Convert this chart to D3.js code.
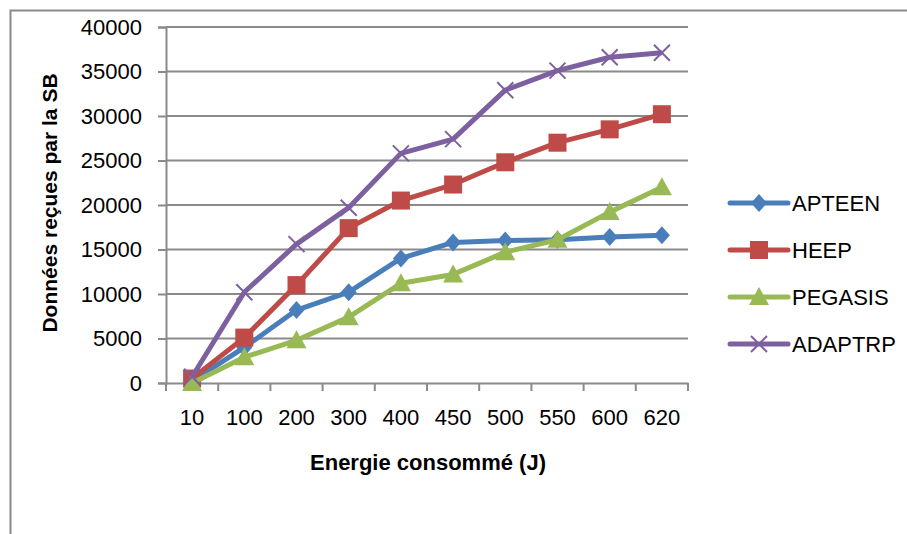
<!DOCTYPE html>
<html>
<head>
<meta charset="utf-8">
<script src="https://cdn.jsdelivr.net/npm/d3@7"></script>
<style>
  body { margin: 0; background: #fff; }
  text { font-family: "Liberation Sans", "DejaVu Sans", sans-serif; fill: #000; }
</style>
</head>
<body>
<div id="container"></div>
<script>
const categories = ["10", "100", "200", "300", "400", "450", "500", "550", "600", "620"];
const apteen  = [200, 4000, 8200, 10200, 14000, 15800, 16000, 16100, 16400, 16600];
const heep    = [500, 5100, 11000, 17400, 20500, 22300, 24800, 27000, 28500, 30200];
const pegasis = [0, 2900, 4800, 7400, 11200, 12200, 14700, 16100, 19200, 22000];
const adaptrp = [700, 10200, 15600, 19700, 25800, 27400, 32900, 35100, 36600, 37100];
const yTicks = [0, 5000, 10000, 15000, 20000, 25000, 30000, 35000, 40000];
const seriesNames = ["APTEEN", "HEEP", "PEGASIS", "ADAPTRP"];

function drawSVG() {
  const W = 907, H = 534;
  const left = 166, right = 688, top = 27, bottom = 383;

  const svg = d3.select("#container").append("svg")
    .attr("width", W).attr("height", H);

  // outer chart border (runs off the picture)
  svg.append("rect")
    .attr("x", 10.5).attr("y", 10.5)
    .attr("width", W + 20).attr("height", H + 20)
    .attr("fill", "none").attr("stroke", "#8a8a8a").attr("stroke-width", 2);

  const x = d3.scaleBand().domain(categories).range([left, right]);
  const y = d3.scaleLinear().domain([0, 40000]).range([bottom, top]);

  // gridlines + y ticks
  const yAxis = svg.append("g")
    .attr("transform", `translate(${left},0)`)
    .call(d3.axisLeft(y).tickValues(yTicks).tickSize(8).tickPadding(16).tickFormat(d3.format("d")));
  yAxis.select(".domain").attr("stroke", "#8a8a8a").attr("stroke-width", 2);
  yAxis.selectAll(".tick line").attr("stroke", "#8a8a8a").attr("stroke-width", 2);
  yAxis.selectAll(".tick text").attr("font-size", 22);

  svg.append("g").selectAll("line")
    .data(yTicks.slice(1))
    .join("line")
    .attr("x1", left).attr("x2", right)
    .attr("y1", d => y(d)).attr("y2", d => y(d))
    .attr("stroke", "#8a8a8a").attr("stroke-width", 2);

  // x axis
  const xAxis = svg.append("g")
    .attr("transform", `translate(0,${bottom})`)
    .call(d3.axisBottom(x).tickSize(0).tickPadding(26));
  xAxis.select(".domain").attr("stroke", "#8a8a8a").attr("stroke-width", 2);
  xAxis.selectAll(".tick text").attr("font-size", 22);
  const bounds = categories.map(c => x(c)).concat([right]);
  svg.append("g").selectAll("line")
    .data(bounds)
    .join("line")
    .attr("x1", d => d).attr("x2", d => d)
    .attr("y1", bottom).attr("y2", bottom + 8)
    .attr("stroke", "#8a8a8a").attr("stroke-width", 2);

  // axis titles
  svg.append("text")
    .attr("x", 428).attr("y", 470)
    .attr("text-anchor", "middle")
    .attr("font-size", 22).attr("font-weight", "bold")
    .text("Energie consommé (J)");
  svg.append("text")
    .attr("transform", "translate(57,203) rotate(-90)")
    .attr("text-anchor", "middle")
    .attr("font-size", 21).attr("font-weight", "bold")
    .text("Données reçues par la SB");

  const series = [
    { name: seriesNames[0], values: apteen,  color: "#4A7EBB", marker: "diamond" },
    { name: seriesNames[1], values: heep,    color: "#BE4B48", marker: "square" },
    { name: seriesNames[2], values: pegasis, color: "#98B954", marker: "triangle" },
    { name: seriesNames[3], values: adaptrp, color: "#7D60A0", marker: "x" }
  ];

  const cx = c => x(c) + x.bandwidth() / 2;
  const line = d3.line().x((d, i) => cx(categories[i])).y(d => y(d));

  function marker(g, type, color) {
    if (type === "diamond") {
      g.append("path").attr("d", "M0,-9L8,0L0,9L-8,0Z").attr("fill", color);
    } else if (type === "square") {
      g.append("rect").attr("x", -9).attr("y", -9).attr("width", 18).attr("height", 18).attr("fill", color);
    } else if (type === "triangle") {
      g.append("path").attr("d", "M0,-10L10,8L-10,8Z").attr("fill", color);
    } else {
      g.append("path").attr("d", "M-8,-8L8,8M-8,8L8,-8")
        .attr("stroke", color).attr("stroke-width", 2).attr("fill", "none");
    }
  }

  series.forEach(s => {
    svg.append("path")
      .datum(s.values)
      .attr("d", line)
      .attr("fill", "none")
      .attr("stroke", s.color)
      .attr("stroke-width", 5)
      .attr("stroke-linejoin", "round");
    svg.append("g").selectAll("g")
      .data(s.values)
      .join("g")
      .attr("transform", (d, i) => `translate(${cx(categories[i])},${y(d)})`)
      .each(function () { marker(d3.select(this), s.marker, s.color); });
  });

  // legend
  const legend = svg.append("g");
  series.forEach((s, i) => {
    const ly = 203 + i * 47;
    const g = legend.append("g").attr("transform", `translate(730,${ly})`);
    g.append("line").attr("x1", 0).attr("x2", 58).attr("y1", 0).attr("y2", 0)
      .attr("stroke", s.color).attr("stroke-width", 5).attr("stroke-linecap", "round");
    const m = g.append("g").attr("transform", "translate(29,0)");
    marker(m, s.marker, s.color);
    g.append("text").attr("x", 62).attr("y", 8)
      .attr("font-size", 22).text(s.name);
  });
}
drawSVG();
</script>
</body>
</html>
